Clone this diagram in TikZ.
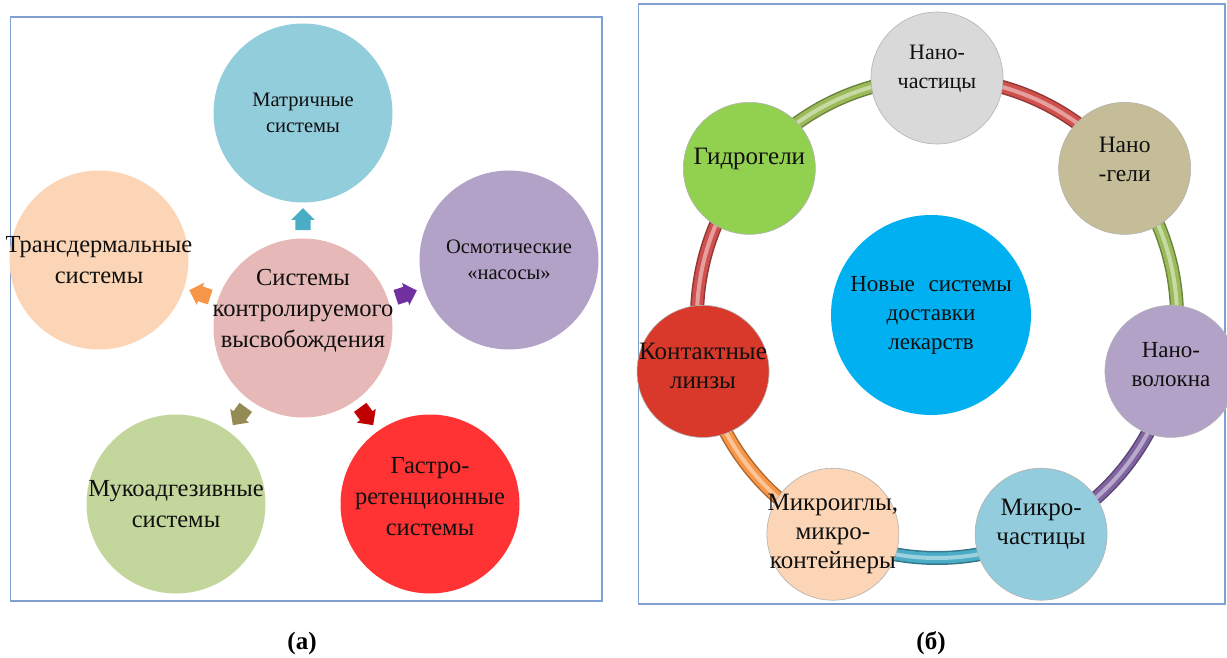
\documentclass[tikz,border=0pt]{standalone}
\usepackage{fontspec}
\setmainfont{Liberation Serif}
\usetikzlibrary{shapes.arrows,calc,backgrounds}
\definecolor{frameC}{HTML}{7FA0D0}
\definecolor{txtC}{HTML}{101010}
% left panel fills
\definecolor{matrC}{HTML}{92CDDC}
\definecolor{transC}{HTML}{FBD5B5}
\definecolor{osmoC}{HTML}{B2A2C7}
\definecolor{sysC}{HTML}{E6B9B8}
\definecolor{mukoC}{HTML}{C3D69B}
\definecolor{gastC}{HTML}{FF3333}
\definecolor{arrT}{HTML}{4BACC6}
\definecolor{arrO}{HTML}{F79646}
\definecolor{arrP}{HTML}{7030A0}
\definecolor{arrL}{HTML}{948A54}
\definecolor{arrR}{HTML}{C00000}
% right panel fills
\definecolor{nchC}{HTML}{D9D9D9}
\definecolor{ngelC}{HTML}{C4BD97}
\definecolor{nvolC}{HTML}{B3A2C7}
\definecolor{mchC}{HTML}{93CDDD}
\definecolor{migC}{HTML}{FBD5B5}
\definecolor{klC}{HTML}{D8392A}
\definecolor{gidC}{HTML}{92D050}
\definecolor{ndsC}{HTML}{00B0F0}
\definecolor{ringR}{HTML}{D0504D}
\definecolor{ringG}{HTML}{9BBB59}
\definecolor{ringP}{HTML}{8064A2}
\definecolor{ringC}{HTML}{4BACC6}
\definecolor{ringO}{HTML}{F79646}
\tikzset{
  frm/.style={draw=frameC, line width=1.6pt},
  bub/.style={circle, minimum size=179pt, inner sep=0pt},
  orb/.style={circle, minimum size=132pt, inner sep=0pt, draw=black!30, line width=0.6pt},
  txtL/.style={align=center, text=txtC, font=\fontsize{24.5}{31}\selectfont},
  txtS/.style={align=center, text=txtC, font=\fontsize{20.5}{26}\selectfont},
  txtR/.style={align=center, text=txtC, font=\fontsize{#1}{29}\selectfont},
  txtR/.default=25,
  blk/.style={single arrow, single arrow head extend=4pt, minimum height=22pt,
    inner xsep=0pt, inner ysep=7.5pt},
  tube/.style={draw=#1!70!black, line width=14pt,
    postaction={draw=#1, line width=11pt},
    postaction={draw=#1!55!white, line width=4pt}},
  panlab/.style={font=\fontsize{25}{30}\selectfont\bfseries},
}
\begin{document}
\begin{tikzpicture}[x=1pt,y=1pt]
\useasboundingbox (0,0) rectangle (1227,657);

% ===================== panel (a) ==========================================
\draw[frm] (10.5,56) rectangle (602,640);
\node[bub, fill=matrC]  (matr)  at (303,544) {};
\node[bub, fill=transC] (trans) at (99,397)  {};
\node[bub, fill=osmoC]  (osmo)  at (509,397) {};
\node[bub, fill=sysC]   (sys)   at (303,329) {};
\node[bub, fill=mukoC]  (muko)  at (176,153) {};
\node[bub, fill=gastC]  (gast)  at (430,153) {};
\node[txtS] (matr-t)  at (matr)  {Матричные\\системы};
\node[txtL] (trans-t) at (trans) {Трансдермальные\\системы};
\node[txtS] (osmo-t)  at (osmo)  {Осмотические\\«насосы»};
\node[txtL] (sys-t)   at ($(sys)+(0,17)$) {Системы\\контролируемого\\высвобождения};
\node[txtL] (muko-t)  at (muko)  {Мукоадгезивные\\системы};
\node[txtL] (gast-t)  at ($(gast)+(0,7)$) {Гастро-\\ретенционные\\системы};
% small block arrows out of the centre
\node[blk, fill=arrT, rotate=90]  (to-matr)  at ($(sys)!105pt!(matr)$)  {};
\node[blk, fill=arrO, rotate=162] (to-trans) at ($(sys)!105pt!(trans)$) {};
\node[blk, fill=arrP, rotate=18]  (to-osmo)  at ($(sys)!105pt!(osmo)$)  {};
\node[blk, fill=arrL, rotate=234] (to-muko)  at ($(sys)!105pt!(muko)$)  {};
\node[blk, fill=arrR, rotate=-54] (to-gast)  at ($(sys)!105pt!(gast)$)  {};
\node[panlab] (lab-a) at (302,14) {(а)};

% ===================== panel (b) ==========================================
\draw[frm] (638.5,53) rectangle (1225,653);
\coordinate (rc) at (937,339);
\node[circle, minimum size=200pt, inner sep=0pt, fill=ndsC] (nds) at (931,342) {};
\node[txtR=23] (nds-t) at (nds) {Новые\hspace{0.6em}системы\\доставки\\лекарств};
\node[orb, fill=nchC]  (nch)  at ($(rc)+(90:240)$)      {};
\node[orb, fill=ngelC] (ngel) at ($(rc)+(38.57:240)$)   {};
\node[orb, fill=nvolC] (nvol) at ($(rc)+(-12.86:240)$)  {};
\node[orb, fill=mchC]  (mch)  at ($(rc)+(-64.29:240)$)  {};
\node[orb, fill=migC]  (mig)  at ($(rc)+(-115.71:240)$) {};
\node[orb, fill=klC]   (kl)   at ($(rc)+(-167.14:240)$) {};
\node[orb, fill=gidC]  (gid)  at ($(rc)+(141.43:240)$)  {};
\begin{scope}[on background layer]
  \draw[tube=ringR] (nch.center)  to[bend left=25.7, looseness=0.9] (ngel.center);
  \draw[tube=ringG] (ngel.center) to[bend left=25.7, looseness=0.9] (nvol.center);
  \draw[tube=ringP] (nvol.center) to[bend left=25.7, looseness=0.9] (mch.center);
  \draw[tube=ringC] (mch.center)  to[bend left=25.7, looseness=0.9] (mig.center);
  \draw[tube=ringO] (mig.center)  to[bend left=25.7, looseness=0.9] (kl.center);
  \draw[tube=ringR] (kl.center)   to[bend left=25.7, looseness=0.9] (gid.center);
  \draw[tube=ringG] (gid.center)  to[bend left=25.7, looseness=0.9] (nch.center);
\end{scope}
\node[txtR=22]   (nch-t)  at ($(nch)+(0,9)$)  {Нано-\\частицы};
\node[txtR=23.5] (ngel-t) at ($(ngel)+(0,9)$) {Нано\\-гели};
\node[txtR=23]   (nvol-t) at ($(nvol)+(0,7)$) {Нано-\\волокна};
\node[txtR]      (mch-t)  at ($(mch)+(0,10)$) {Микро-\\частицы};
\node[txtR]      (mig-t)  at (mig)            {Микроиглы,\\микро-\\контейнеры};
\node[txtR]      (kl-t)   at ($(kl)+(0,5)$)   {Контактные\\линзы};
\node[txtR]      (gid-t)  at ($(gid)+(0,9)$)  {Гидрогели};
\node[panlab] (lab-b) at (931,14) {(б)};
\end{tikzpicture}
\end{document}
